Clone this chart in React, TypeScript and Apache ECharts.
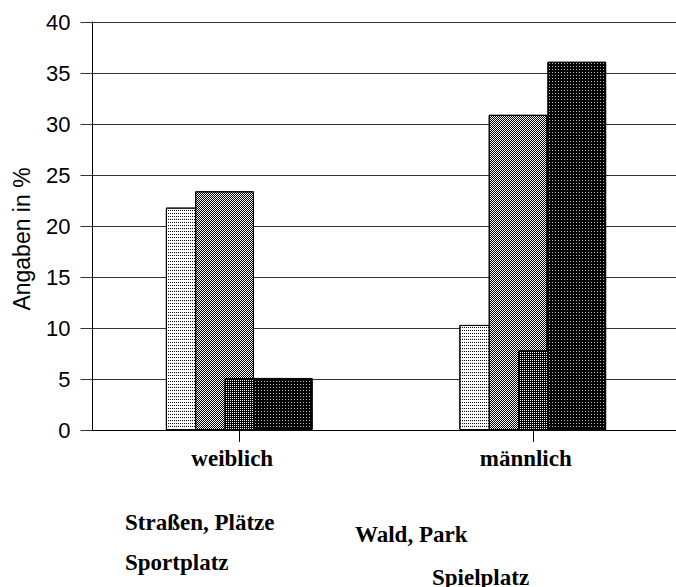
import React, { useEffect, useRef } from "react";
import * as echarts from "echarts";

const categories = ["weiblich", "männlich"];
const seriesNames = ["Straßen, Plätze", "Wald, Park", "Sportplatz", "Spielplatz"];
const strassenPlaetze = [21.8, 10.3];
const waldPark = [23.4, 30.9];
const sportplatz = [5.1, 7.8];
const spielplatz = [5.1, 36.1];
const yMin = 0;
const yMax = 40;
const yStep = 5;
const yAxisTitle = "Angaben in %";

const seriesValues = [strassenPlaetze, waldPark, sportplatz, spielplatz];

const barStyles = [
  {
    color: "#ffffff",
    decal: { symbol: "rect", symbolSize: 1, color: "#000", dashArrayX: [1, 1], dashArrayY: [1, 2] },
  },
  {
    color: "#ffffff",
    decal: {
      symbol: "rect",
      symbolSize: 1,
      color: "#000",
      dashArrayX: [[1, 1], [0, 1, 1, 0]],
      dashArrayY: [1, 0],
    },
  },
  {
    color: "#000000",
    decal: { symbol: "rect", symbolSize: 1, color: "#ffffff", dashArrayX: [1, 1], dashArrayY: [1, 1] },
  },
  {
    color: "#000000",
    decal: { symbol: "rect", symbolSize: 1, color: "#bbbbbb", dashArrayX: [1, 2], dashArrayY: [1, 2] },
  },
];

// centre line of each legend text
const legendPos = [
  { x: 125, y: 522 },
  { x: 355, y: 534 },
  { x: 125, y: 562 },
  { x: 432, y: 577 },
];

export default function App() {
  const ref = useRef<HTMLDivElement>(null);
  useEffect(() => {
    if (!ref.current) return;
    const chart = echarts.init(ref.current, undefined, { renderer: "svg" });
    chart.setOption({
      animation: false,
      backgroundColor: "#ffffff",
      grid: { left: 92.5, right: 20.5, top: 22, bottom: 157, outerBoundsMode: "none" },
      xAxis: {
        type: "category",
        data: categories,
        axisLine: { show: true, lineStyle: { color: "#000", width: 1 } },
        axisTick: { show: true, alignWithLabel: true, length: 12, lineStyle: { color: "#000" } },
        axisLabel: {
          margin: 17,
          color: "#000",
          fontFamily: "Liberation Serif",
          fontWeight: "bold",
          fontSize: 23,
          padding: [0, 14, 0, 0],
        },
        splitLine: { show: false },
      },
      yAxis: {
        type: "value",
        min: yMin,
        max: yMax,
        interval: yStep,
        name: yAxisTitle,
        nameLocation: "middle",
        nameRotate: 90,
        nameGap: 59,
        nameTextStyle: {
          color: "#000",
          fontFamily: "Liberation Sans",
          fontSize: 23,
          padding: [0, 26, 0, 0],
        },
        axisLine: { show: true, lineStyle: { color: "#000", width: 1 } },
        axisTick: { show: true, length: 12, lineStyle: { color: "#333" } },
        axisLabel: {
          margin: 22,
          color: "#000",
          fontFamily: "Liberation Sans",
          fontSize: 22,
        },
        splitLine: { show: true, lineStyle: { color: "#333", width: 1 } },
      },
      series: seriesValues.map((vals, i) => ({
        type: "bar",
        name: seriesNames[i],
        data: vals,
        barWidth: 58.7,
        barGap: "-50%",
        itemStyle: {
          color: barStyles[i].color,
          decal: barStyles[i].decal,
          borderColor: "#000",
          borderWidth: 1,
        },
      })),
      graphic: seriesNames.map((n, i) => ({
        type: "text",
        x: legendPos[i].x,
        y: legendPos[i].y,
        style: {
          text: n,
          fill: "#000",
          font: "bold 23px 'Liberation Serif'",
          verticalAlign: "middle",
        },
      })),
    });
    return () => chart.dispose();
  }, []);
  return (
    <div style={{ position: "fixed", left: 0, top: 0, width: 676, height: 587, overflow: "hidden", background: "#fff" }}>
      <div ref={ref} style={{ width: 700, height: 587 }} />
    </div>
  );
}
